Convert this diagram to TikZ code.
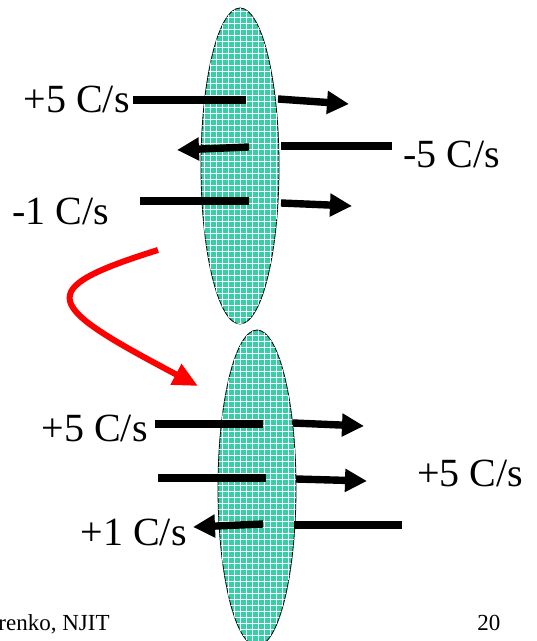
\documentclass[tikz,border=0pt]{standalone}
\usepackage{fontspec}
\setmainfont{Liberation Serif}
\usetikzlibrary{arrows.meta,patterns,shapes.geometric}
\definecolor{lensgreen}{RGB}{56,206,166}
\definecolor{flowred}{RGB}{255,0,0}

\begin{document}
\begin{tikzpicture}[x=0.5pt,y=-0.5pt,
      lens/.style={draw,thin,ellipse,fill=lensgreen,inner sep=0pt,minimum width=39pt,minimum height=158pt,
        postaction={pattern=grid,pattern color=white!60}},
      wire/.style={line width=3.7pt},
      flow/.style={wire,-{Triangle[length=11pt,width=11pt]}},
      lbl/.style={inner sep=0pt,font=\fontsize{20}{24}\selectfont},
      foot/.style={inner sep=0pt,font=\fontsize{11.5}{14}\selectfont}]
      \useasboundingbox (0,0) rectangle (536,641);
      \clip (0,0) rectangle (536,641);
      % first surface
      \node[lens] (top) at (240,166) {};
      \node[lbl,anchor=base east] (ta) at (130,113) {+5 C/s};
      \node[lbl,anchor=base west] (tb) at (403,168) {-5 C/s};
      \node[lbl,anchor=base west] (tc) at (12,225) {-1 C/s};
      \coordinate (ta1) at (133,100); \coordinate (ta2) at (246,100);
      \coordinate (ta3) at (278,99);  \coordinate (ta4) at (349,104);
      \coordinate (tb1) at (392,146); \coordinate (tb2) at (281,146);
      \coordinate (tb3) at (249,147); \coordinate (tb4) at (177,150);
      \coordinate (tc1) at (140,201); \coordinate (tc2) at (249,201);
      \coordinate (tc3) at (281,203); \coordinate (tc4) at (352,206);
      \draw[wire] (ta1)--(ta2);
      \draw[flow] (ta3)--(ta4);
      \draw[wire] (tb1)--(tb2);
      \draw[flow] (tb3)--(tb4);
      \draw[wire] (tc1)--(tc2);
      \draw[flow] (tc3)--(tc4);
      % second surface
      \node[lens] (bot) at (257,488) {};
      \node[lbl,anchor=base east] (ba) at (148,441) {+5 C/s};
      \node[lbl,anchor=base west] (bb) at (417,486) {+5 C/s};
      \node[lbl,anchor=base east] (bc) at (187,545) {+1 C/s};
      \coordinate (ba1) at (155,424); \coordinate (ba2) at (263,424);
      \coordinate (ba3) at (293,423); \coordinate (ba4) at (364,426);
      \coordinate (bb1) at (158,478); \coordinate (bb2) at (266,478);
      \coordinate (bb3) at (296,479); \coordinate (bb4) at (367,481);
      \coordinate (bc1) at (402,525); \coordinate (bc2) at (294,525);
      \coordinate (bc3) at (263,524); \coordinate (bc4) at (193,527);
      \draw[wire] (ba1)--(ba2);
      \draw[flow] (ba3)--(ba4);
      \draw[wire] (bb1)--(bb2);
      \draw[flow] (bb3)--(bb4);
      \draw[wire] (bc1)--(bc2);
      \draw[flow] (bc3)--(bc4);
      % red curved arrow
      \coordinate (r1) at (158,250); \coordinate (r2) at (198,386);
      \draw[flowred,line width=3pt,-{Triangle[length=12.5pt,width=11pt]}]
        (r1) .. controls (30,290) and (45,305) .. (r2);
      % footer
      \node[foot,anchor=base east] (au) at (110,630) {renko, NJIT};
      \node[foot,anchor=base west] (pg) at (477,630) {20};
    \end{tikzpicture}
\end{document}
